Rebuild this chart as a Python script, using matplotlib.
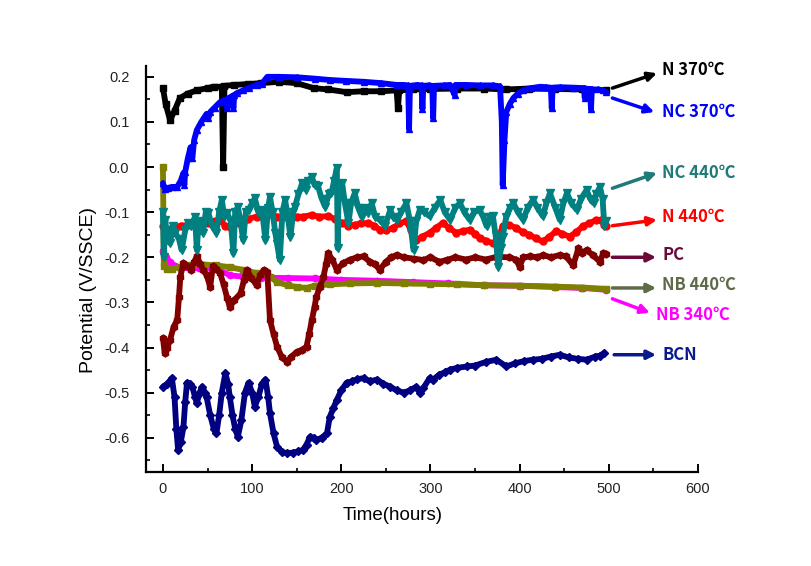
import matplotlib
matplotlib.use("Agg")
import matplotlib.pyplot as plt
from matplotlib.ticker import MultipleLocator

# ---------------- data ----------------
n370_t = [0, 3, 8, 13, 19, 28, 38, 50, 57, 66, 67.5, 69, 80, 95, 110, 130, 150, 169, 185,
          206, 225, 245, 262, 263.5, 265, 280, 300, 330, 360, 385, 410, 440, 470, 497]
n370_v = [0.175, 0.14, 0.104, 0.125, 0.153, 0.163, 0.17, 0.175, 0.178, 0.178, 0.0, 0.18,
          0.182, 0.184, 0.186, 0.189, 0.186, 0.175, 0.172, 0.166, 0.168, 0.168, 0.17, 0.13,
          0.17, 0.172, 0.173, 0.174, 0.174, 0.172, 0.174, 0.173, 0.172, 0.17]

nc370_t = [0, 2, 6, 10, 16, 20, 23, 24, 25, 28, 31, 33, 35, 38, 43, 49, 51, 53, 58, 64, 71,
           72, 73, 78, 79, 80, 83, 90, 97, 105, 111, 117, 130, 150, 170, 187, 205, 225, 245,
           262, 270, 275, 276, 277, 285, 290, 291, 292, 298, 302, 303, 304, 315, 322, 327,
           328, 340, 355, 370, 378, 380, 381, 383, 385, 389, 393, 398, 404, 413, 423, 430,
           435, 436, 437, 445, 460, 472, 473, 474, 479, 480, 481, 488, 493, 497]
nc370_v = [-0.036, -0.048, -0.046, -0.044, -0.044, -0.03, -0.013, -0.04, -0.01, 0.02, 0.044,
           0.02, 0.06, 0.082, 0.1, 0.118, 0.108, 0.122, 0.132, 0.144, 0.15, 0.13, 0.152,
           0.158, 0.13, 0.16, 0.164, 0.17, 0.176, 0.182, 0.185, 0.2, 0.2, 0.199, 0.196, 0.193,
           0.191, 0.189, 0.186, 0.182, 0.182, 0.181, 0.084, 0.18, 0.182, 0.181, 0.128, 0.18,
           0.181, 0.18, 0.108, 0.18, 0.181, 0.182, 0.16, 0.182, 0.182, 0.181, 0.181, 0.179,
           0.1, -0.04, 0.06, 0.122, 0.14, 0.153, 0.163, 0.17, 0.175, 0.178, 0.177, 0.176,
           0.13, 0.176, 0.177, 0.176, 0.175, 0.153, 0.174, 0.173, 0.128, 0.172, 0.172, 0.17,
           0.166]

nc440_t = [0, 1, 2.6, 5, 8, 11, 14, 18, 21, 25, 28, 32, 36, 38, 40, 45, 48, 51, 55, 60, 63,
           66, 69, 72, 76, 79, 81, 84, 87, 90, 93, 96, 100, 103, 107, 111, 115, 118, 120,
           123, 126, 128, 131, 134, 137, 140, 143, 146, 148, 152, 156, 160, 163, 167, 170,
           174, 178, 182, 186, 189, 192, 195, 196, 197, 201, 204, 208, 211, 215, 219, 223,
           226, 230, 234, 238, 243, 249, 255, 258, 262, 267, 273, 277, 281, 284, 288, 293,
           299, 305, 311, 316, 322, 328, 333, 338, 344, 349, 355, 359, 363, 367, 370, 373,
           376, 379, 381, 385, 389, 393, 398, 404, 409, 415, 420, 426, 430, 434, 440, 445,
           449, 453, 458, 464, 469, 475, 479, 483, 486, 490, 493, 495, 497]
nc440_v = [-0.1, -0.2, -0.117, -0.16, -0.169, -0.13, -0.146, -0.16, -0.184, -0.14, -0.124,
           -0.13, -0.11, -0.184, -0.12, -0.146, -0.1, -0.102, -0.13, -0.146, -0.1, -0.073,
           -0.11, -0.102, -0.12, -0.191, -0.1, -0.088, -0.12, -0.162, -0.1, -0.095, -0.08,
           -0.069, -0.1, -0.095, -0.162, -0.09, -0.066, -0.1, -0.146, -0.17, -0.206, -0.1,
           -0.073, -0.11, -0.154, -0.1, -0.088, -0.06, -0.036, -0.05, -0.03, -0.022, -0.04,
           -0.043, -0.07, -0.088, -0.06, -0.058, -0.03, -0.002, -0.18, -0.06, -0.036, -0.08,
           -0.124, -0.08, -0.058, -0.09, -0.11, -0.09, -0.102, -0.08, -0.11, -0.117, -0.13,
           -0.095, -0.11, -0.117, -0.1, -0.08, -0.12, -0.184, -0.12, -0.095, -0.1, -0.109,
           -0.09, -0.073, -0.1, -0.117, -0.09, -0.08, -0.1, -0.117, -0.1, -0.095, -0.11,
           -0.131, -0.11, -0.109, -0.15, -0.221, -0.18, -0.154, -0.11, -0.09, -0.08, -0.1,
           -0.117, -0.09, -0.073, -0.09, -0.109, -0.08, -0.058, -0.09, -0.117, -0.08, -0.058,
           -0.08, -0.095, -0.07, -0.051, -0.07, -0.08, -0.06, -0.044, -0.07, -0.131, -0.12]

n440_t = [0, 5, 10, 20, 30, 40, 50, 58, 64, 70, 75, 85, 95, 105, 113, 120, 128, 140, 150,
          157, 167, 175, 185, 193, 201, 208, 215, 222, 230, 237, 243, 250, 258, 265, 273,
          278, 284, 290, 299, 306, 314, 321, 329, 336, 344, 350, 355, 362, 370, 375, 381,
          388, 396, 404, 411, 418, 426, 433, 441, 448, 456, 463, 471, 478, 486, 491, 495, 497]
n440_v = [-0.13, -0.14, -0.135, -0.13, -0.128, -0.125, -0.125, -0.12, -0.118, -0.13, -0.133,
          -0.125, -0.115, -0.11, -0.102, -0.105, -0.11, -0.112, -0.11, -0.11, -0.106, -0.11,
          -0.109, -0.115, -0.124, -0.13, -0.128, -0.125, -0.124, -0.13, -0.139, -0.14,
          -0.135, -0.125, -0.12, -0.14, -0.162, -0.155, -0.146, -0.135, -0.124, -0.135,
          -0.146, -0.142, -0.139, -0.148, -0.157, -0.163, -0.169, -0.165, -0.131, -0.128,
          -0.135, -0.145, -0.15, -0.158, -0.165, -0.155, -0.142, -0.148, -0.154, -0.145,
          -0.131, -0.125, -0.117, -0.118, -0.128, -0.13]

pc_t = [0, 2, 5, 8, 12, 16, 18, 19.5, 23, 27, 31, 35, 38, 42, 45, 49, 53, 56, 60, 64, 68,
        72, 75, 80, 87, 91, 94, 99, 105, 109, 113, 117, 120, 124, 128, 133, 139, 144, 150,
        156, 161, 164, 167, 170, 172, 176, 180, 183, 185, 190, 195, 202, 210, 218, 225, 232,
        238, 243, 250, 256, 262, 270, 281, 292, 300, 310, 318, 328, 340, 350, 362, 374, 388,
        396, 400, 404, 412, 420, 426, 435, 445, 452, 460, 466, 470, 475, 482, 490, 494, 497]
pc_v = [-0.379, -0.413, -0.4, -0.383, -0.354, -0.339, -0.288, -0.243, -0.213, -0.22, -0.228,
        -0.21, -0.198, -0.215, -0.228, -0.24, -0.265, -0.22, -0.225, -0.235, -0.26, -0.29,
        -0.31, -0.295, -0.28, -0.25, -0.228, -0.245, -0.262, -0.24, -0.228, -0.232, -0.339,
        -0.37, -0.398, -0.42, -0.432, -0.42, -0.41, -0.405, -0.398, -0.37, -0.339, -0.31,
        -0.288, -0.265, -0.243, -0.215, -0.191, -0.205, -0.228, -0.213, -0.205, -0.2, -0.198,
        -0.21, -0.215, -0.228, -0.21, -0.2, -0.195, -0.2, -0.203, -0.206, -0.2, -0.21, -0.206,
        -0.2, -0.205, -0.2, -0.205, -0.199, -0.2, -0.205, -0.221, -0.2, -0.198, -0.2, -0.195,
        -0.2, -0.195, -0.198, -0.218, -0.18, -0.19, -0.184, -0.195, -0.21, -0.19, -0.192]

nb340_t = [0, 3, 8, 14, 19, 40, 60, 75, 90, 110, 140, 170, 200, 240, 280, 320, 360, 400,
           440, 470, 497]
nb340_v = [-0.185, -0.2, -0.21, -0.22, -0.224, -0.224, -0.225, -0.24, -0.243, -0.245, -0.246,
           -0.247, -0.25, -0.252, -0.255, -0.258, -0.262, -0.263, -0.266, -0.268, -0.272]

nb440_t = [0, 1, 5, 10, 19, 30, 45, 60, 75, 90, 105, 120, 128, 140, 150, 161, 170, 187, 210,
           240, 270, 300, 330, 360, 400, 440, 470, 497]
nb440_v = [0.0, -0.22, -0.225, -0.225, -0.222, -0.218, -0.216, -0.218, -0.222, -0.228, -0.235,
           -0.243, -0.255, -0.262, -0.266, -0.268, -0.263, -0.26, -0.258, -0.257, -0.258,
           -0.259, -0.26, -0.262, -0.263, -0.265, -0.267, -0.27]

bcn_t = [0, 5, 10, 13, 15, 17, 20, 23, 25, 27, 30, 33, 36, 38, 41, 44, 47, 49, 53, 57, 60,
         63, 66, 70, 73, 75, 78, 81, 84, 88, 92, 96, 100, 103, 107, 111, 115, 118, 120, 124,
         128, 134, 139, 146, 152, 157, 161, 165, 169, 172, 178, 184, 187, 191, 195, 200, 206,
         212, 218, 225, 232, 240, 247, 255, 262, 270, 277, 284, 288, 292, 299, 303, 310, 316,
         322, 330, 341, 350, 362, 374, 385, 395, 405, 415, 425, 435, 445, 455, 465, 475, 485,
         490, 495]
bcn_v = [-0.487, -0.48, -0.468, -0.51, -0.58, -0.627, -0.61, -0.576, -0.52, -0.478, -0.48,
         -0.487, -0.51, -0.524, -0.5, -0.487, -0.5, -0.51, -0.55, -0.58, -0.59, -0.55, -0.5,
         -0.457, -0.48, -0.51, -0.55, -0.58, -0.598, -0.56, -0.5, -0.478, -0.5, -0.531, -0.51,
         -0.48, -0.471, -0.51, -0.545, -0.59, -0.62, -0.632, -0.634, -0.633, -0.63, -0.627,
         -0.615, -0.598, -0.6, -0.605, -0.6, -0.59, -0.554, -0.535, -0.516, -0.495, -0.478,
         -0.475, -0.47, -0.468, -0.475, -0.471, -0.48, -0.487, -0.495, -0.5, -0.495, -0.487,
         -0.5, -0.49, -0.468, -0.471, -0.46, -0.455, -0.449, -0.445, -0.442, -0.44, -0.432,
         -0.427, -0.442, -0.435, -0.43, -0.427, -0.425, -0.42, -0.416, -0.422, -0.425, -0.427,
         -0.42, -0.418, -0.412]

x_ticks = [0, 100, 200, 300, 400, 500, 600]
y_ticks = [-0.6, -0.5, -0.4, -0.3, -0.2, -0.1, 0.0, 0.1, 0.2]
y_tick_labels = ["-0.6", "-0.5", "-0.4", "-0.3", "-0.2", "-0.1", "0.0", "0.1", "0.2"]

labels = ["N 370\u2103", "NC 370\u2103", "NC 440\u2103", "N 440\u2103", "PC",
          "NB 440\u2103", "NB 340\u2103", "BCN"]
label_text_pos = [(560, 0.215), (560, 0.1225), (560, -0.0125), (560, -0.111),
                  (560, -0.196), (560, -0.261), (553, -0.328), (560, -0.416)]
arrow_start = [(504, 0.175), (504, 0.153), (504, -0.047), (504, -0.13),
               (504, -0.2), (504, -0.268), (504, -0.292), (506, -0.416)]
arrow_end = [(554, 0.208), (551, 0.122), (554, -0.013), (554, -0.117),
             (553, -0.2), (553, -0.268), (546, -0.323), (553, -0.416)]

# ---------------- styling ----------------
plt.rcParams['font.family'] = ['Liberation Sans', 'DejaVu Sans']

fig = plt.figure(figsize=(8.12, 5.66), dpi=100)
ax = fig.add_axes([0.1798, 0.166, 0.6798, 0.7174])

series = [
    (nb340_t, nb340_v, '#FF00FF', 'o', 4.5),
    (nb440_t, nb440_v, '#808000', 's', 4.5),
    (pc_t, pc_v, '#800000', 'h', 5),
    (n440_t, n440_v, '#FF0000', 'o', 5),
    (nc440_t, nc440_v, '#008080', 'v', 5.5),
    (n370_t, n370_v, '#000000', 's', 4.5),
    (nc370_t, nc370_v, '#0000FF', '^', 5),
    (bcn_t, bcn_v, '#000080', 'D', 4.5),
]
for t, v, c, m, ms in series:
    ax.plot(t, v, color=c, lw=4.2, marker=m, ms=ms, mec=c, mfc=c,
            solid_joinstyle='round', solid_capstyle='round')

ax.set_xlim(-19, 600)
ax.set_ylim(-0.676, 0.224)
ax.set_xticks(x_ticks)
ax.set_yticks(y_ticks)
ax.set_yticklabels(y_tick_labels)
ax.xaxis.set_minor_locator(MultipleLocator(50))
ax.yaxis.set_minor_locator(MultipleLocator(0.05))
for s in ['top', 'right']:
    ax.spines[s].set_visible(False)
for s in ['left', 'bottom']:
    ax.spines[s].set_linewidth(1.6)
ax.tick_params(which='major', direction='in', length=5.5, width=1.4, labelsize=10.5,
               labelcolor='#222222')
ax.tick_params(which='minor', direction='in', length=3, width=1.2)
ax.tick_params(axis='y', which='major', pad=12)
ax.tick_params(axis='x', which='major', pad=7)

ax.set_xlabel("Time(hours)", fontsize=13.5)
ax.set_ylabel("Potential (V/SSCE)", fontsize=14)
ax.xaxis.set_label_coords(0.447, -0.085)
ax.yaxis.set_label_coords(-0.088, 0.448)

label_colors = ['#000000', '#0000FF', '#1E7B78', '#FF0000', '#6A0A38', '#5E6B48',
                '#FF00FF', '#0A1A8C']
for lab, tp, a0, a1, c in zip(labels, label_text_pos, arrow_start, arrow_end, label_colors):
    ax.annotate("", xy=a1, xytext=a0, xycoords='data', textcoords='data',
                annotation_clip=False,
                arrowprops=dict(arrowstyle='-|>', color=c, lw=2.5, mutation_scale=13,
                                shrinkA=0, shrinkB=0))
    ax.text(tp[0], tp[1], lab, color=c, fontsize=12, fontweight='bold',
            family=['Noto Sans CJK KR', 'DejaVu Sans'], ha='left', va='center',
            clip_on=False)

fig.savefig("out.png", dpi=100)
